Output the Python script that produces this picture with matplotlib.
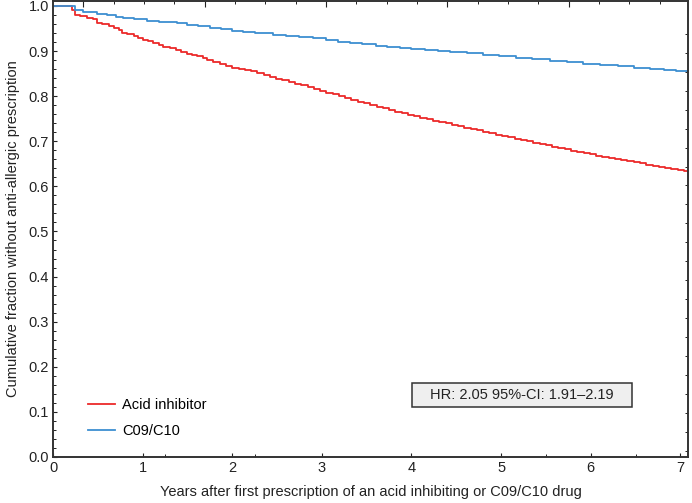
import numpy as np
import matplotlib
matplotlib.use("Agg")
import matplotlib.pyplot as plt
from matplotlib.patches import Rectangle

plt.rcParams['font.family'] = ['Liberation Sans', 'DejaVu Sans']

# Kaplan-Meier style data (years, cumulative fraction)
acid_t = [0, 0.21, 0.245, 0.30, 0.38, 0.45, 0.49, 0.55, 0.62, 0.68, 0.74, 0.77, 0.83, 0.90,
          0.95, 1.00, 1.06, 1.12, 1.18, 1.23, 1.30, 1.37, 1.43, 1.49, 1.55, 1.61, 1.67, 1.72,
          1.79, 1.86, 1.93, 2.00, 2.07, 2.14, 2.21, 2.28, 2.35, 2.42, 2.49, 2.56, 2.63, 2.70,
          2.77, 2.84, 2.91, 2.98, 3.05, 3.12, 3.19, 3.26, 3.33, 3.40, 3.47, 3.54, 3.61, 3.68,
          3.75, 3.82, 3.89, 3.96, 4.03, 4.10, 4.17, 4.24, 4.31, 4.38, 4.45, 4.52, 4.59, 4.66,
          4.73, 4.80, 4.87, 4.94, 5.01, 5.08, 5.15, 5.22, 5.29, 5.36, 5.43, 5.50, 5.57, 5.64,
          5.71, 5.78, 5.85, 5.92, 5.99, 6.06, 6.13, 6.20, 6.27, 6.34, 6.41, 6.48, 6.55, 6.62,
          6.69, 6.76, 6.83, 6.90, 6.97, 7.04, 7.09]
acid_s = [1.000, 0.990, 0.980, 0.978, 0.974, 0.970, 0.962, 0.959, 0.955, 0.951, 0.947, 0.940,
          0.937, 0.933, 0.929, 0.925, 0.922, 0.918, 0.914, 0.909, 0.906, 0.902, 0.899, 0.894,
          0.891, 0.888, 0.885, 0.880, 0.876, 0.871, 0.866, 0.862, 0.860, 0.858, 0.855, 0.851,
          0.847, 0.843, 0.839, 0.836, 0.832, 0.828, 0.824, 0.820, 0.816, 0.812, 0.808, 0.804,
          0.800, 0.796, 0.791, 0.788, 0.784, 0.780, 0.777, 0.773, 0.770, 0.766, 0.763, 0.759,
          0.756, 0.752, 0.749, 0.746, 0.743, 0.740, 0.736, 0.733, 0.730, 0.727, 0.724, 0.721,
          0.718, 0.715, 0.712, 0.709, 0.706, 0.703, 0.700, 0.697, 0.694, 0.691, 0.688, 0.685,
          0.682, 0.679, 0.676, 0.674, 0.671, 0.668, 0.666, 0.663, 0.661, 0.658, 0.656, 0.653,
          0.651, 0.648, 0.646, 0.643, 0.641, 0.638, 0.636, 0.633, 0.631]

c09_t = [0, 0.245, 0.33, 0.49, 0.60, 0.70, 0.78, 0.90, 1.05, 1.18, 1.38, 1.50, 1.62, 1.75,
         1.88, 2.00, 2.12, 2.25, 2.45, 2.60, 2.75, 2.90, 3.05, 3.18, 3.31, 3.45, 3.60, 3.73,
         3.87, 4.00, 4.15, 4.30, 4.43, 4.62, 4.80, 4.98, 5.17, 5.35, 5.55, 5.73, 5.91, 6.10,
         6.30, 6.48, 6.66, 6.82, 6.95, 7.09]
c09_s = [1.000, 0.990, 0.987, 0.982, 0.979, 0.976, 0.973, 0.970, 0.967, 0.965, 0.962, 0.958,
         0.955, 0.951, 0.948, 0.945, 0.942, 0.939, 0.936, 0.934, 0.931, 0.928, 0.925, 0.921,
         0.918, 0.915, 0.912, 0.910, 0.907, 0.905, 0.902, 0.900, 0.898, 0.895, 0.892, 0.889,
         0.885, 0.882, 0.878, 0.875, 0.871, 0.869, 0.866, 0.863, 0.860, 0.857, 0.855, 0.853]

series_labels = ["Acid inhibitor", "C09/C10"]
hr_text = "HR: 2.05 95%-CI: 1.91\u20132.19"
x_label = "Years after first prescription of an acid inhibiting or C09/C10 drug"
y_label = "Cumulative fraction without anti-allergic prescription"

fig = plt.figure(figsize=(6.92, 5.03), dpi=100)
ax = fig.add_axes([0.0766, 0.0915, 0.9182, 0.9065])

red = '#ec2a2a'
blue = '#3d8fd1'
ax.step(acid_t, acid_s, where='post', color=red, lw=1.3, label=series_labels[0])
ax.step(c09_t, c09_s, where='post', color=blue, lw=1.3, label=series_labels[1])

ax.set_xlim(0, 7.09)
ax.set_ylim(0, 1.011)

ax.set_xticks(np.arange(0, 8, 1))
ax.set_xticklabels([str(i) for i in range(8)])
ax.set_xticks([1.25, 2.25, 5.5, 6.5], minor=True)
ax.set_yticks(np.round(np.arange(0, 1.01, 0.1), 1))
ax.set_yticklabels([f"{v:.1f}" for v in np.arange(0, 1.01, 0.1)])
ax.set_yticks(np.arange(0.02, 1.0, 0.02), minor=True)

ax.tick_params(axis='both', which='major', direction='in', length=3, width=0.8,
               labelsize=10.5, colors='#222222', pad=3)
ax.tick_params(axis='both', which='minor', direction='in', length=2, width=0.7,
               colors='#222222')

# top and right decorative ticks
secx = ax.secondary_xaxis('top')
top_major = np.arange(1, 22, 4) * 0.3385
top_minor = np.arange(1, 22) * 0.3385
secx.set_xticks(top_major[top_major < 7.09])
secx.set_xticks(top_minor[top_minor < 7.09], minor=True)
secx.tick_params(which='major', direction='in', length=4, width=0.8, labeltop=False, colors='#222222')
secx.tick_params(which='minor', direction='in', length=2, width=0.7, colors='#222222')
secx.spines['top'].set_visible(False)

secy = ax.secondary_yaxis('right')
right_ticks = 0.938 - np.arange(0, 23) * 0.042
secy.set_yticks(right_ticks[right_ticks > 0.01])
secy.set_yticks([], minor=True)
secy.tick_params(which='major', direction='in', length=2, width=0.7, labelright=False, colors='#222222')
secy.spines['right'].set_visible(False)

for s in ax.spines.values():
    s.set_color('#333333')
    s.set_linewidth(1.4)

ax.set_xlabel(x_label, fontsize=10.5, labelpad=7, color='#222222')
ax.set_ylabel(y_label, fontsize=10.5, labelpad=6, color='#222222')

leg = ax.legend(loc='lower left', bbox_to_anchor=(0.035, 0.012), frameon=False,
                fontsize=10.5, handlelength=1.85, handletextpad=0.45, labelspacing=0.85)

ax.add_patch(Rectangle((0.565, 0.110), 0.346, 0.053, transform=ax.transAxes,
                       facecolor='#efefef', edgecolor='#333333', lw=1.1, zorder=5))
ax.text(0.738, 0.1365, hr_text, transform=ax.transAxes, ha='center', va='center',
        fontsize=10.5, color='#222222', zorder=6)

fig.savefig('out.png', dpi=100)
